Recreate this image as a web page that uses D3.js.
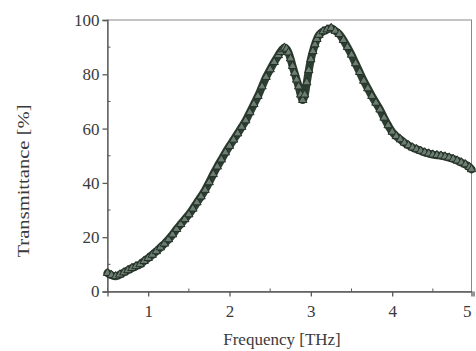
<!DOCTYPE html>
<html><head><meta charset="utf-8">
<script src="https://cdn.jsdelivr.net/npm/d3@7"></script>
<style>html,body{margin:0;padding:0;background:#fff;}svg{display:block;}</style>
</head><body>
<svg id="chart" width="476" height="351"></svg>
<script>
const frequency = [0.50,0.55,0.60,0.65,0.70,0.75,0.80,0.85,0.90,0.95,1.00,1.05,1.10,1.15,1.20,1.25,1.30,1.35,1.40,1.45,1.50,1.55,1.60,1.65,1.70,1.75,1.80,1.85,1.90,1.95,2.00,2.05,2.10,2.15,2.20,2.25,2.30,2.35,2.40,2.45,2.50,2.55,2.60,2.625,2.65,2.675,2.70,2.725,2.75,2.775,2.80,2.825,2.85,2.875,2.90,2.925,2.95,2.975,3.00,3.025,3.05,3.075,3.10,3.15,3.20,3.25,3.30,3.35,3.40,3.45,3.50,3.55,3.60,3.65,3.70,3.75,3.80,3.85,3.90,3.95,4.00,4.05,4.10,4.15,4.20,4.25,4.30,4.35,4.40,4.45,4.50,4.55,4.60,4.65,4.70,4.75,4.80,4.85,4.90,4.95,4.975];
const transmittance = [6.8,6.0,5.6,6.2,7.0,7.8,8.6,9.3,10.0,11.2,12.3,13.5,14.8,16.2,17.6,19.2,21.0,23.0,24.8,26.6,28.4,30.5,32.8,35.0,37.4,40.2,43.2,46.0,48.6,51.2,53.6,55.9,58.2,60.6,63.0,66.0,69.0,72.0,75.5,79.0,81.8,84.5,87.0,88.2,89.2,89.8,89.4,88.0,85.8,83.0,80.5,78.0,75.5,72.5,70.5,72.5,77.0,81.5,85.5,88.5,91.0,93.0,94.5,95.8,96.5,97.0,96.0,94.8,92.6,90.0,87.2,84.0,80.8,77.6,74.8,72.0,69.5,67.0,64.0,61.2,58.8,57.2,56.0,54.8,53.8,53.0,52.4,51.8,51.2,50.8,50.4,50.2,50.0,49.7,49.3,48.8,48.2,47.5,46.8,45.8,45.0];
const xTicks = [1,2,3,4,5];
const yTicks = [0,20,40,60,80,100];
const xMinor = [0.5,1.5,2.5,3.5,4.5];
const yMinor = [10,30,50,70,90];
const xLabel = "Frequency [THz]";
const yLabel = "Transmittance [%]";

const data = frequency.map((f,i)=>({f, t: transmittance[i]}));
const svg = d3.select("#chart");
const x = d3.scaleLinear().domain([0.5, 4.975]).range([107.5, 471.5]);
const y = d3.scaleLinear().domain([0, 100]).range([291.5, 20]);
const axisColor = "#5a5a5a";
const textColor = "#3a3a3a";
const font = "'Liberation Serif', 'Times New Roman', serif";

// frame
svg.append("rect").attr("x", x.range()[0]).attr("y", y.range()[1])
  .attr("width", x.range()[1]-x.range()[0]).attr("height", y.range()[0]-y.range()[1])
  .attr("fill","none").attr("stroke","#8a8a8a").attr("stroke-width",1);

// axes
const gx = svg.append("g").attr("transform", `translate(0,${y.range()[0]})`)
  .call(d3.axisBottom(x).tickValues(xTicks).tickFormat(d3.format("d")).tickSize(5).tickPadding(8));
const gy = svg.append("g").attr("transform", `translate(${x.range()[0]},0)`)
  .call(d3.axisLeft(y).tickValues(yTicks).tickFormat(d3.format("d")).tickSize(5).tickPadding(3));
[gx, gy].forEach(g => {
  g.select(".domain").attr("stroke", axisColor).attr("stroke-width", 1.3);
  g.selectAll(".tick line").attr("stroke", axisColor).attr("stroke-width", 1.3);
  g.selectAll(".tick text").attr("fill", textColor).attr("font-family", font).attr("font-size", 17);
});
// keep the last x tick label inside the picture
gx.selectAll(".tick text").filter(d => d === 5).attr("text-anchor", "end").attr("dx", "-0.15em");
// minor ticks (inward)
svg.append("g").selectAll("line").data(xMinor).join("line")
  .attr("x1", d=>x(d)).attr("x2", d=>x(d)).attr("y1", y(0)).attr("y2", y(0)-3)
  .attr("stroke", axisColor).attr("stroke-width", 1);
svg.append("g").selectAll("line").data(yMinor).join("line")
  .attr("x1", x(0.5)).attr("x2", x(0.5)+3).attr("y1", d=>y(d)).attr("y2", d=>y(d))
  .attr("stroke", axisColor).attr("stroke-width", 1);

// axis labels
svg.append("text").attr("x", 282).attr("y", 345).attr("text-anchor","middle")
  .attr("fill", textColor).attr("font-family", font).attr("font-size", 17).text(xLabel);
svg.append("text").attr("transform","translate(29,181) rotate(-90)").attr("text-anchor","middle")
  .attr("fill", textColor).attr("font-family", font).attr("font-size", 17)
  .attr("textLength", 153).attr("lengthAdjust","spacingAndGlyphs").text(yLabel);

// data band
const line = d3.line().x(d=>x(d.f)).y(d=>y(d.t)).curve(d3.curveCatmullRom);
svg.append("path").datum(data).attr("d", line).attr("fill","none")
  .attr("stroke","#2c3d31").attr("stroke-width",8).attr("stroke-linejoin","round").attr("stroke-linecap","round");
svg.append("g").selectAll("path").data(data).join("path")
  .attr("transform", d=>`translate(${x(d.f)},${y(d.t)})`)
  .attr("d", d3.symbol(d3.symbolTriangle, 30))
  .attr("fill","#6e7d72").attr("stroke","#223026").attr("stroke-width",1);
</script>
</body></html>
